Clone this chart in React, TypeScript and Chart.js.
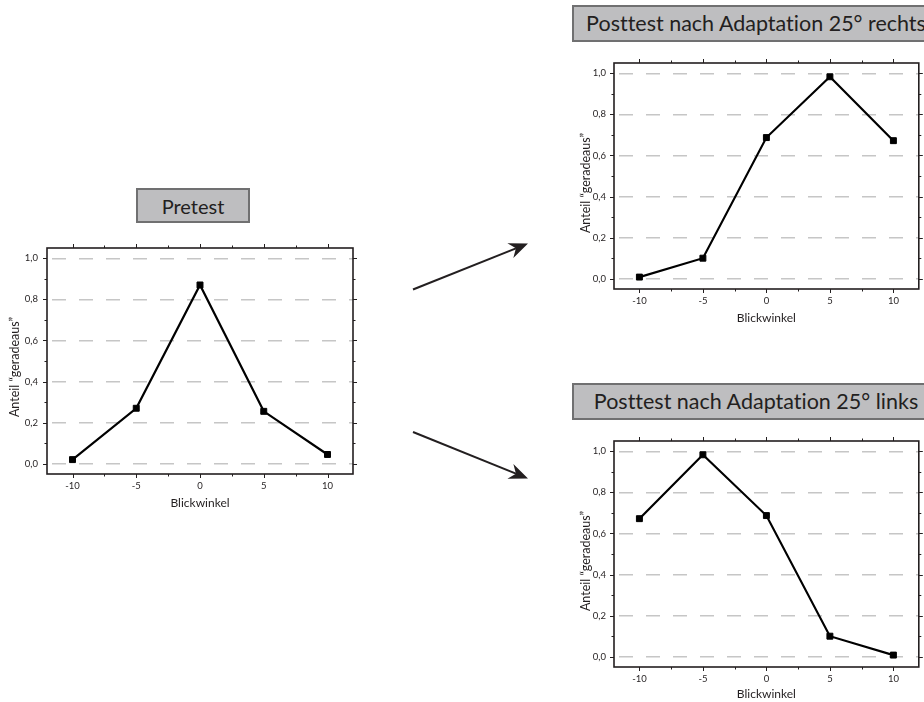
import React, { useEffect, useRef } from "react";
import { Chart, registerables } from "chart.js";

Chart.register(...registerables);

// Gaze angle (x) and share of "straight ahead" answers (y)
const blickwinkel = [-10, -5, 0, 5, 10];
const pretestWerte = [0.02, 0.27, 0.87, 0.255, 0.045];
const rechtsWerte = [0.008, 0.1, 0.687, 0.983, 0.672];
const linksWerte = [0.672, 0.983, 0.687, 0.1, 0.008];

const xTickWerte = [-10, -5, 0, 5, 10];
const xMinorWerte = [-7.5, -2.5, 2.5, 7.5];
const yTickWerte = [0, 0.2, 0.4, 0.6, 0.8, 1.0];
const yMinorWerte = [0.1, 0.3, 0.5, 0.7, 0.9];

const titelPretest = "Pretest";
const titelRechts = "Posttest nach Adaptation 25° rechts";
const titelLinks = "Posttest nach Adaptation 25° links";
const xAchsenTitel = "Blickwinkel";
const yAchsenTitel = "Anteil “geradeaus”";

const FONT = "Lato, 'Open Sans', sans-serif";
const INK = "#231f20";

type PanelLayout = {
  left: number;
  top: number;
  width: number;
  height: number;
  plotLeft: number;
  plotTop: number;
  plotRight: number;
  plotBottom: number;
  yTitleX: number; // centre of the rotated y title, from canvas left
  yTitleShift: number; // downward shift of the y title from the plot centre
  xTitleFromBottom: number; // centre of the x title, from canvas bottom
  yLabelGap: number;
  xLabelGap: number;
};

// Frame with outward major/minor tick marks on all four sides,
// plus the rotated y-axis title
const framePlugin = {
  id: "frameTicks",
  afterDraw(chart: any, _args: any, opts: any) {
    const { ctx, chartArea, scales } = chart;
    const { left, right, top, bottom } = chartArea;
    const x = scales.x;
    const y = scales.y;
    ctx.save();
    ctx.strokeStyle = INK;
    ctx.lineWidth = 1;
    const seg = (x1: number, y1: number, x2: number, y2: number) => {
      ctx.beginPath();
      ctx.moveTo(x1, y1);
      ctx.lineTo(x2, y2);
      ctx.stroke();
    };
    const yMarks = (vals: number[], len: number) => {
      for (const v of vals) {
        const py = Math.round(y.getPixelForValue(v)) + 0.5;
        seg(left - len, py, left, py);
        seg(right, py, right + len, py);
      }
    };
    const xMarks = (vals: number[], len: number) => {
      for (const v of vals) {
        const px = Math.round(x.getPixelForValue(v)) + 0.5;
        seg(px, bottom, px, bottom + len);
        seg(px, top - len, px, top);
      }
    };
    yMarks(yTickWerte, 4);
    yMarks(yMinorWerte, 2.5);
    xMarks(xTickWerte, 4);
    xMarks(xMinorWerte, 2.5);
    ctx.lineWidth = 1.6;
    ctx.strokeRect(left, top, right - left, bottom - top);

    // y-axis title
    ctx.translate(opts.titleX, (top + bottom) / 2 + opts.titleShift);
    ctx.rotate(-Math.PI / 2);
    ctx.fillStyle = INK;
    ctx.font = `12.5px ${FONT}`;
    ctx.textAlign = "center";
    ctx.textBaseline = "middle";
    ctx.fillText(opts.text, 0, 0);
    ctx.restore();
  },
};

function Panel({ werte, layout }: { werte: number[]; layout: PanelLayout }) {
  const ref = useRef<HTMLCanvasElement | null>(null);

  useEffect(() => {
    if (!ref.current) return;
    const L = layout;
    const chart = new Chart(ref.current, {
      type: "line",
      data: {
        datasets: [
          {
            data: blickwinkel.map((b, i) => ({ x: b, y: werte[i] })),
            borderColor: "#000",
            borderWidth: 2.2,
            backgroundColor: "#000",
            pointStyle: "rect",
            pointRadius: 4.2,
            pointBorderWidth: 1,
            pointBorderColor: "#000",
            pointBackgroundColor: "#000",
            tension: 0,
            fill: false,
          },
        ],
      },
      options: {
        animation: false,
        responsive: false,
        maintainAspectRatio: false,
        layout: {
          padding: {
            left: 0,
            top: L.plotTop,
            right: L.width - L.plotRight,
            bottom: 0,
          },
        },
        plugins: {
          legend: { display: false },
          tooltip: { enabled: false },
          frameTicks: {
            text: yAchsenTitel,
            titleX: L.yTitleX,
            titleShift: L.yTitleShift,
          },
        },
        scales: {
          x: {
            type: "linear",
            min: -12,
            max: 12,
            afterBuildTicks: (s: any) => {
              s.ticks = xTickWerte.map((value) => ({ value }));
            },
            afterFit: (s: any) => {
              s.height = L.height - L.plotBottom;
            },
            grid: { display: false, drawTicks: false },
            border: { display: false },
            ticks: {
              padding: L.xLabelGap,
              color: INK,
              font: { family: FONT, size: 9.5 },
              maxRotation: 0,
              autoSkip: false,
              callback: (v: any) => String(v),
            },
            title: {
              display: true,
              text: xAchsenTitel,
              color: INK,
              font: { family: FONT, size: 12 },
              padding: { top: 0, bottom: L.xTitleFromBottom - 7.2 },
            },
          },
          y: {
            type: "linear",
            min: -0.05,
            max: 1.05,
            afterBuildTicks: (s: any) => {
              s.ticks = yTickWerte.map((value) => ({ value }));
            },
            afterFit: (s: any) => {
              s.width = L.plotLeft;
            },
            grid: {
              color: "#c6c6c6",
              lineWidth: 1.5,
              drawTicks: false,
            },
            border: { display: false, dash: [14, 13], dashOffset: 22 },
            ticks: {
              padding: L.yLabelGap,
              color: INK,
              font: { family: FONT, size: 9.5 },
              callback: (v: any) => Number(v).toFixed(1).replace(".", ","),
            },
            title: { display: false },
          },
        },
      },
      plugins: [framePlugin],
    } as any);
    return () => chart.destroy();
  }, [werte, layout]);

  return (
    <canvas
      ref={ref}
      width={layout.width}
      height={layout.height}
      style={{
        position: "absolute",
        left: layout.left,
        top: layout.top,
        width: layout.width,
        height: layout.height,
      }}
    />
  );
}

function TitleBox({
  text,
  left,
  top,
  width,
  height,
  size,
}: {
  text: string;
  left: number;
  top: number;
  width: number;
  height: number;
  size: number;
}) {
  return (
    <div
      style={{
        position: "absolute",
        left,
        top,
        width,
        height,
        boxSizing: "border-box",
        background: "#bebec0",
        border: "2px solid #707071",
        color: INK,
        fontFamily: FONT,
        fontSize: size,
        fontVariantLigatures: "none",
        display: "flex",
        alignItems: "center",
        justifyContent: "center",
        whiteSpace: "nowrap",
        lineHeight: 1,
      }}
    >
      {text}
    </div>
  );
}

function arrowPath(sx: number, sy: number, tx: number, ty: number) {
  const dx = tx - sx;
  const dy = ty - sy;
  const len = Math.hypot(dx, dy);
  const ux = dx / len;
  const uy = dy / len;
  const nx = -uy;
  const ny = ux;
  const L = 19;
  const W = 8;
  const N = 13;
  const c1 = [tx - L * ux + W * nx, ty - L * uy + W * ny];
  const c2 = [tx - L * ux - W * nx, ty - L * uy - W * ny];
  const notch = [tx - N * ux, ty - N * uy];
  return {
    shaftEnd: notch,
    head: `${tx},${ty} ${c1[0]},${c1[1]} ${notch[0]},${notch[1]} ${c2[0]},${c2[1]}`,
  };
}

function Arrow({ sx, sy, tx, ty }: { sx: number; sy: number; tx: number; ty: number }) {
  const a = arrowPath(sx, sy, tx, ty);
  return (
    <g>
      <line x1={sx} y1={sy} x2={a.shaftEnd[0]} y2={a.shaftEnd[1]} stroke={INK} strokeWidth={2} />
      <polygon points={a.head} fill={INK} />
    </g>
  );
}

const pretestLayout: PanelLayout = {
  left: 0,
  top: 230,
  width: 370,
  height: 290,
  plotLeft: 47,
  plotTop: 18,
  plotRight: 353,
  plotBottom: 244,
  yTitleX: 15,
  yTitleShift: 6,
  xTitleFromBottom: 17,
  yLabelGap: 9,
  xLabelGap: 6,
};

const rechtsLayout: PanelLayout = {
  left: 560,
  top: 45,
  width: 364,
  height: 290,
  plotLeft: 54,
  plotTop: 18,
  plotRight: 361,
  plotBottom: 244,
  yTitleX: 26,
  yTitleShift: 7,
  xTitleFromBottom: 17,
  yLabelGap: 8,
  xLabelGap: 6,
};

const linksLayout: PanelLayout = {
  left: 560,
  top: 423,
  width: 364,
  height: 279,
  plotLeft: 54,
  plotTop: 18,
  plotRight: 361,
  plotBottom: 244,
  yTitleX: 26,
  yTitleShift: 7,
  xTitleFromBottom: 8,
  yLabelGap: 8,
  xLabelGap: 6,
};

export default function App() {
  return (
    <div
      style={{
        position: "fixed",
        left: 0,
        top: 0,
        width: 924,
        height: 702,
        overflow: "hidden",
        background: "#fff",
      }}
    >
      <Panel werte={pretestWerte} layout={pretestLayout} />
      <Panel werte={rechtsWerte} layout={rechtsLayout} />
      <Panel werte={linksWerte} layout={linksLayout} />
      <TitleBox text={titelPretest} left={136} top={188} width={114} height={35} size={20} />
      <TitleBox text={titelRechts} left={572} top={5} width={368} height={37} size={21.5} />
      <TitleBox text={titelLinks} left={572} top={383} width={368} height={37} size={21.5} />
      <svg
        width={924}
        height={702}
        style={{ position: "absolute", left: 0, top: 0, pointerEvents: "none" }}
      >
        <Arrow sx={413} sy={289.5} tx={528} ty={243.5} />
        <Arrow sx={413} sy={432} tx={528} ty={478.5} />
      </svg>
    </div>
  );
}
